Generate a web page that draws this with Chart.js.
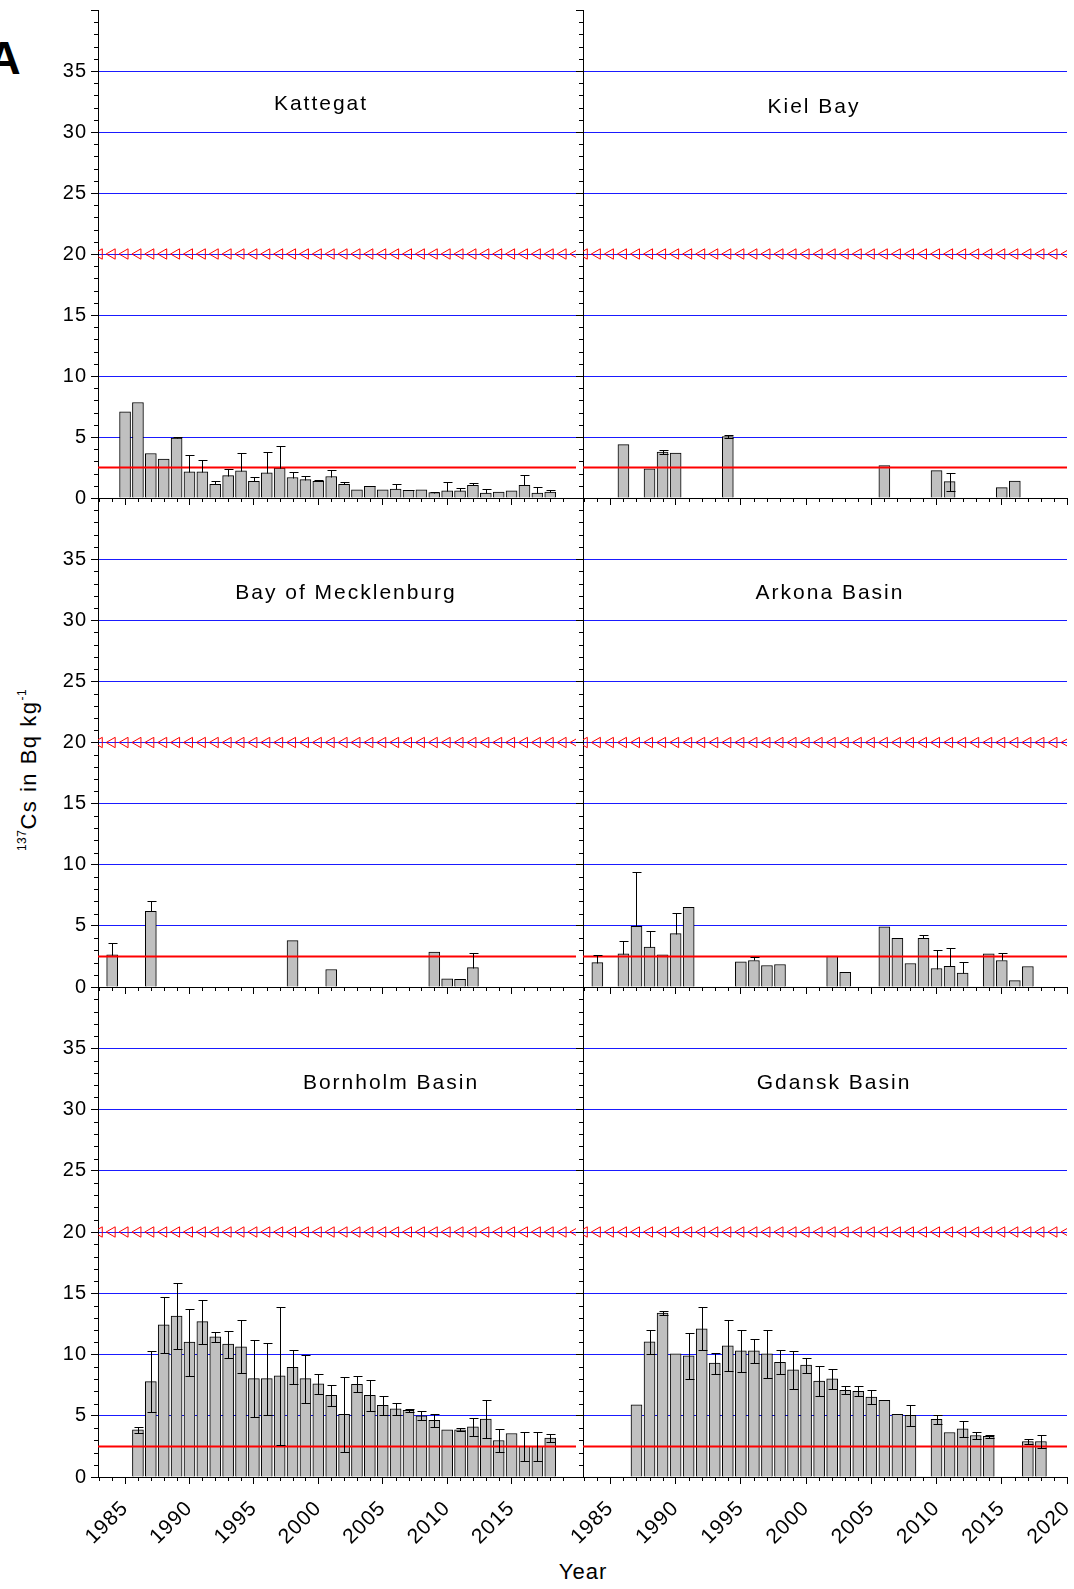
<!DOCTYPE html>
<html>
<head>
<meta charset="utf-8">
<script src="https://cdn.jsdelivr.net/npm/chart.js@4.4.1/dist/chart.umd.min.js"></script>
<style>
  html, body { margin: 0; padding: 0; background: #fff; }
  #fig { position: relative; width: 1074px; height: 1589px; overflow: hidden; font-family: "Liberation Sans", Arial, sans-serif; color: #000; }
  #fig canvas { position: absolute; }
  .txt { position: absolute; white-space: nowrap; line-height: 1; transform: translate(-50%, -50%); }
  .title { font-size: 21px; letter-spacing: 2px; }
  .ylab { font-size: 22px; letter-spacing: 1.5px; transform: translate(-50%, -50%) rotate(-90deg); }
  .ylab sup { font-size: 12px; vertical-align: 10px; letter-spacing: 0.5px; }
</style>
</head>
<body>
<div id="fig">
  <div class="txt" style="left:4px; top:58px; font-size:46px; font-weight:bold;">A</div>
  <div class="txt ylab" style="left:28px; top:770px;"><sup>137</sup>Cs in Bq kg<sup>-1</sup></div>
  <div class="txt" style="left:583px; top:1572px; font-size:22px; letter-spacing:1px;">Year</div>
</div>
<script>
// x range and reference levels
const xMin = 1982.9;
const xMax = 2020;
const refLevel = 2.5;
const limitLevel = 20;
const limitYears = [1983, 1984, 1985, 1986, 1987, 1988, 1989, 1990, 1991, 1992, 1993, 1994, 1995,
  1996, 1997, 1998, 1999, 2000, 2001, 2002, 2003, 2004, 2005, 2006, 2007, 2008, 2009, 2010,
  2011, 2012, 2013, 2014, 2015, 2016, 2017, 2018, 2019, 2020];
const xMajorLeft = [1985, 1990, 1995, 2000, 2005, 2010, 2015];
const xMajorRight = [1985, 1990, 1995, 2000, 2005, 2010, 2015, 2020];
const yMajor = [0, 5, 10, 15, 20, 25, 30, 35, 40];

// Kattegat
const katYears = [1985, 1986, 1987, 1988, 1989, 1990, 1991, 1992, 1993, 1994, 1995, 1996, 1997,
  1998, 1999, 2000, 2001, 2002, 2003, 2004, 2005, 2006, 2007, 2008, 2009, 2010, 2011, 2012,
  2013, 2014, 2015, 2016, 2017, 2018];
const katValues = [7.06, 7.83, 3.65, 3.19, 4.92, 2.14, 2.14, 1.13, 1.84, 2.23, 1.37, 2.06, 2.45,
  1.68, 1.51, 1.37, 1.76, 1.13, 0.66, 0.96, 0.66, 0.74, 0.63, 0.66, 0.44, 0.58, 0.58, 1.04,
  0.41, 0.49, 0.58, 1.04, 0.41, 0.49];
const katErrors = [0, 0, 0, 0, 0.05, 1.35, 0.96, 0.24, 0.55, 1.45, 0.39, 1.68, 1.81,
  0.46, 0.33, 0.14, 0.55, 0.16, 0, 0.06, 0, 0.39, 0.03, 0, 0.05, 0.71, 0.22, 0.17,
  0.33, 0, 0, 0.88, 0.47, 0.17];

// Kiel Bay
const kielYears = [1986, 1988, 1989, 1990, 1994, 2006, 2010, 2011, 2015, 2016];
const kielValues = [4.37, 2.40, 3.77, 3.69, 5.03, 2.65, 2.24, 1.34, 0.85, 1.39];
const kielErrors = [0, 0, 0.2, 0, 0.1, 0, 0, 0.74, 0, 0];

// Bay of Mecklenburg
const meckYears = [1984, 1987, 1998, 2001, 2009, 2010, 2011, 2012];
const meckValues = [2.64, 6.18, 3.79, 1.43, 2.86, 0.66, 0.63, 1.59];
const meckErrors = [0.93, 0.85, 0, 0, 0, 0, 0.05, 1.21];

// Arkona Basin
const arkYears = [1984, 1986, 1987, 1988, 1989, 1990, 1991, 1995, 1996, 1997, 1998, 2002, 2003,
  2006, 2007, 2008, 2009, 2010, 2011, 2012, 2014, 2015, 2016, 2017];
const arkValues = [2.0, 2.72, 4.97, 3.27, 2.64, 4.37, 6.51, 2.06, 2.17, 1.76, 1.84, 2.53, 1.21,
  4.92, 3.98, 1.92, 3.98, 1.51, 1.70, 1.13, 2.72, 2.17, 0.52, 1.68];
const arkErrors = [0.64, 1.02, 4.40, 1.35, 0, 1.65, 0, 0, 0.28, 0, 0, 0, 0,
  0, 0, 0, 0.31, 1.51, 1.49, 0.93, 0, 0.63, 0, 0];

// Bornholm Basin
const bornYears = [1986, 1987, 1988, 1989, 1990, 1991, 1992, 1993, 1994, 1995, 1996, 1997, 1998,
  1999, 2000, 2001, 2002, 2003, 2004, 2005, 2006, 2007, 2008, 2009, 2010, 2011, 2012, 2013,
  2014, 2015, 2016, 2017, 2018];
const bornValues = [3.85, 7.79, 12.43, 13.14, 11.01, 12.68, 11.45, 10.85, 10.63, 8.03, 8.03, 8.25, 8.96,
  8.03, 7.60, 6.67, 5.11, 7.57, 6.67, 5.85, 5.57, 5.44, 5.00, 4.62, 3.85, 3.85, 4.10, 4.73,
  2.98, 3.55, 2.51, 2.51, 3.17];
const bornErrors = [0.26, 2.47, 2.28, 2.73, 2.74, 1.80, 0.40, 1.10, 2.16, 3.15, 2.94, 5.60, 1.38,
  1.97, 0.80, 0.87, 3.05, 0.66, 1.26, 0.80, 0.50, 0.14, 0.37, 0.50, 0, 0.12, 0.72, 1.52,
  0.93, 0, 1.18, 1.18, 0.34];

// Gdansk Basin
const gdaYears = [1987, 1988, 1989, 1990, 1991, 1992, 1993, 1994, 1995, 1996, 1997, 1998, 1999,
  2000, 2001, 2002, 2003, 2004, 2005, 2006, 2007, 2008, 2010, 2011, 2012, 2013, 2014, 2017, 2018];
const gdaValues = [5.90, 11.04, 13.39, 10.05, 9.89, 12.10, 9.29, 10.71, 10.30, 10.30, 10.05, 9.37, 8.74,
  9.13, 7.84, 8.01, 7.08, 6.99, 6.53, 6.26, 5.11, 5.03, 4.70, 3.63, 3.93, 3.39, 3.31, 2.90, 2.90];
const gdaErrors = [0, 0.96, 0.17, 0, 1.85, 1.77, 0.85, 2.08, 1.70, 0.98, 1.93, 0.98, 1.57,
  0.60, 1.22, 0.82, 0.31, 0.40, 0.55, 0, 0, 0.83, 0.34, 0, 0.63, 0.30, 0.15, 0.23, 0.52];

const panels = [
  { title: 'Kattegat', years: katYears, values: katValues, errors: katErrors, errBoth: false, col: 0, row: 0, tx: 321, ty: 102 },
  { title: 'Kiel Bay', years: kielYears, values: kielValues, errors: kielErrors, errBoth: true, col: 1, row: 0, tx: 814, ty: 105 },
  { title: 'Bay of Mecklenburg', years: meckYears, values: meckValues, errors: meckErrors, errBoth: false, col: 0, row: 1, tx: 346, ty: 591 },
  { title: 'Arkona Basin', years: arkYears, values: arkValues, errors: arkErrors, errBoth: false, col: 1, row: 1, tx: 830, ty: 591 },
  { title: 'Bornholm Basin', years: bornYears, values: bornValues, errors: bornErrors, errBoth: true, col: 0, row: 2, tx: 391, ty: 1081 },
  { title: 'Gdansk Basin', years: gdaYears, values: gdaValues, errors: gdaErrors, errBoth: true, col: 1, row: 2, tx: 834, ty: 1081 },
];

// panel layout in page pixels
const rowTop = [10, 498, 987];
const rowBottom = [498, 987, 1477];
const padTop = 10;

Chart.defaults.font.family = "'Liberation Sans', Arial, sans-serif";
Chart.defaults.font.size = 20;
Chart.defaults.color = '#000';

const gridBlue = '#1a1aff';

const minorTicks = {
  id: 'minorTicks',
  beforeDraw(chart) {
    chart.ctx.letterSpacing = '1px';
  },
  afterDraw(chart) {
    const { ctx, chartArea: a, scales: { x, y } } = chart;
    ctx.save();
    ctx.strokeStyle = '#000';
    ctx.lineWidth = 1;
    ctx.beginPath();
    for (let v = Math.ceil(x.min); v <= x.max; v++) {
      if (v % 5 === 0) continue;
      const px = Math.round(x.getPixelForValue(v)) + 0.5;
      ctx.moveTo(px, a.bottom);
      ctx.lineTo(px, a.bottom + 4);
    }
    for (let v = 1; v < 40; v++) {
      if (v % 5 === 0) continue;
      const py = Math.round(y.getPixelForValue(v)) + 0.5;
      ctx.moveTo(a.left - 4, py);
      ctx.lineTo(a.left, py);
    }
    ctx.stroke();
    ctx.restore();
  }
};

const makeErrorBars = (p) => ({
  id: 'errorBars',
  afterDatasetsDraw(chart) {
    const { ctx, scales: { x, y } } = chart;
    ctx.save();
    ctx.strokeStyle = '#000';
    ctx.lineWidth = 1;
    p.years.forEach((yr, i) => {
      const e = p.errors[i];
      if (!e) return;
      const cx = Math.round(x.getPixelForValue(yr)) + 0.5;
      const top = Math.round(y.getPixelForValue(p.values[i] + e)) + 0.5;
      const bot = Math.round(y.getPixelForValue(p.errBoth ? p.values[i] - e : p.values[i])) + 0.5;
      ctx.beginPath();
      ctx.moveTo(cx, top);
      ctx.lineTo(cx, bot);
      ctx.moveTo(cx - 4, top);
      ctx.lineTo(cx + 5, top);
      if (p.errBoth) {
        ctx.moveTo(cx - 4, bot);
        ctx.lineTo(cx + 5, bot);
      }
      ctx.stroke();
    });
    ctx.restore();
  }
});

const fig = document.getElementById('fig');

panels.forEach(p => {
  const yAxisW = p.col === 0 ? 98 : 30;
  const left = p.col === 0 ? 0 : 553;
  const width = p.col === 0 ? 583 : 1074 - 553;
  const padRight = p.col === 0 ? 0 : 7;
  const xAxisH = p.row === 2 ? 90 : 12;
  const areaH = rowBottom[p.row] - rowTop[p.row];
  const height = padTop + areaH + xAxisH;

  const canvas = document.createElement('canvas');
  canvas.width = width;
  canvas.height = height;
  canvas.style.left = left + 'px';
  canvas.style.top = (rowTop[p.row] - padTop) + 'px';
  fig.appendChild(canvas);

  const title = document.createElement('div');
  title.className = 'txt title';
  title.style.left = p.tx + 'px';
  title.style.top = p.ty + 'px';
  title.textContent = p.title;
  fig.appendChild(title);

  const xMajor = p.col === 0 ? xMajorLeft : xMajorRight;

  new Chart(canvas, {
    type: 'bar',
    data: {
      datasets: [{
        type: 'bar',
        data: p.years.map((yr, i) => ({ x: yr, y: p.values[i] })),
        backgroundColor: '#c0c0c0',
        borderColor: '#000',
        borderWidth: 1,
        barThickness: 11,
        order: 2,
      }, {
        type: 'line',
        data: [{ x: xMin, y: refLevel }, { x: xMax, y: refLevel }],
        borderColor: '#ff0000',
        borderWidth: 2,
        pointRadius: 0,
        order: 1,
      }, {
        type: 'line',
        data: limitYears.map(yr => ({ x: yr, y: limitLevel })),
        showLine: false,
        pointStyle: 'triangle',
        rotation: 270,
        pointRadius: 6,
        borderWidth: 1,
        borderColor: '#ff0000',
        backgroundColor: 'rgba(0,0,0,0)',
        order: 0,
      }],
    },
    options: {
      responsive: false,
      animation: false,
      devicePixelRatio: 1,
      events: [],
      layout: { padding: { top: padTop, left: 0, right: padRight, bottom: 0 } },
      plugins: {
        legend: { display: false },
        tooltip: { enabled: false },
      },
      scales: {
        x: {
          type: 'linear',
          min: xMin,
          max: xMax,
          offset: false,
          grid: { offset: false, drawOnChartArea: false, tickLength: 7, tickColor: '#000' },
          border: { color: '#000', width: 1 },
          ticks: {
            display: p.row === 2,
            autoSkip: false,
            minRotation: 45,
            maxRotation: 45,
            padding: 12,
            color: '#000',
            font: { size: 21 },
            callback: (v) => String(v),
          },
          afterBuildTicks: (s) => { s.ticks = xMajor.map(v => ({ value: v })); },
          afterFit: (s) => { s.height = xAxisH; s.paddingLeft = 0; s.paddingRight = 0; },
        },
        y: {
          min: 0,
          max: 40,
          grid: {
            color: (c) => (c.tick && c.tick.value > 0 && c.tick.value < 40) ? gridBlue : 'rgba(0,0,0,0)',
            tickColor: '#000',
            tickLength: 7,
            lineWidth: 1,
          },
          border: { color: '#000', width: 1 },
          ticks: {
            display: p.col === 0,
            padding: 4,
            color: '#000',
            callback: (v) => v < 40 ? String(v) : '',
          },
          afterBuildTicks: (s) => { s.ticks = yMajor.map(v => ({ value: v })); },
          afterFit: (s) => { s.width = yAxisW; s.paddingTop = 0; s.paddingBottom = 0; },
        },
      },
    },
    plugins: [minorTicks, makeErrorBars(p)],
  });
});
</script>
</body>
</html>
